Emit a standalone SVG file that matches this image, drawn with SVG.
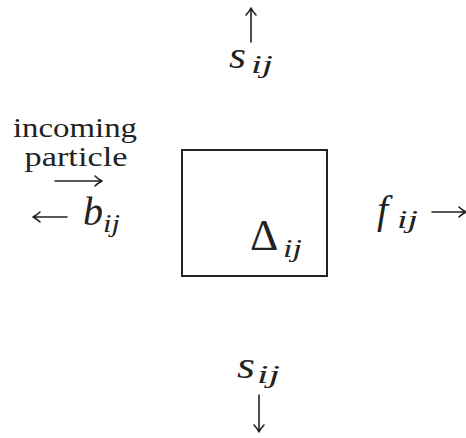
<svg xmlns="http://www.w3.org/2000/svg" width="466" height="438" viewBox="0 0 466 438">
<style>
.a{stroke:#222;stroke-width:1.6;fill:none;stroke-linecap:round;stroke-linejoin:round}
</style>
<rect width="466" height="438" fill="#fff"/>
<g id="cell">
<rect x="182" y="150" width="145" height="126" fill="none" stroke="#222" stroke-width="2"/>
<text x="250" y="250" font-family="'Liberation Serif', serif" fill="#222" font-size="44">Δ</text>
<text x="283" y="257" font-family="'Liberation Serif', serif" fill="#222" font-style="italic" font-size="26" textLength="19" lengthAdjust="spacingAndGlyphs">ij</text>
</g>
<g id="top-s">
<text x="229" y="68" font-family="'Liberation Serif', serif" fill="#222" font-style="italic" font-size="38" textLength="17" lengthAdjust="spacingAndGlyphs">s</text>
<text x="251" y="73" font-family="'Liberation Serif', serif" fill="#222" font-style="italic" font-size="26" textLength="22" lengthAdjust="spacingAndGlyphs">ij</text>
</g>
<g id="bottom-s">
<text x="237" y="378" font-family="'Liberation Serif', serif" fill="#222" font-style="italic" font-size="38" textLength="18" lengthAdjust="spacingAndGlyphs">s</text>
<text x="257" y="383" font-family="'Liberation Serif', serif" fill="#222" font-style="italic" font-size="26" textLength="23" lengthAdjust="spacingAndGlyphs">ij</text>
</g>
<g id="f">
<text x="377" y="223" font-family="'Liberation Serif', serif" fill="#222" font-style="italic" font-size="40">f</text>
<text x="397" y="228" font-family="'Liberation Serif', serif" fill="#222" font-style="italic" font-size="26" textLength="21" lengthAdjust="spacingAndGlyphs">ij</text>
</g>
<g id="b">
<text x="83" y="225" font-family="'Liberation Serif', serif" fill="#222" font-style="italic" font-size="40">b</text>
<text x="103" y="232" font-family="'Liberation Serif', serif" fill="#222" font-style="italic" font-size="26" textLength="17" lengthAdjust="spacingAndGlyphs">ij</text>
</g>
<g id="label">
<text x="75" y="137" font-family="'Liberation Serif', serif" fill="#222" font-size="28" text-anchor="middle" textLength="124" lengthAdjust="spacingAndGlyphs">incoming</text>
<text x="76" y="166" font-family="'Liberation Serif', serif" fill="#222" font-size="28" text-anchor="middle" textLength="103" lengthAdjust="spacingAndGlyphs">particle</text>
</g>
<g id="connectors">
<path class="a" d="M251 42V8M246 15Q249 12 251 8Q253 12 256 15"/>
<path class="a" d="M259 395V432M254 425Q257 428 259 432Q261 428 264 425"/>
<path class="a" d="M432 212H466M459 207Q462 210 466 212Q462 214 459 217"/>
<path class="a" d="M67 217H33M40 212Q37 215 33 217Q37 219 40 222"/>
<path class="a" d="M55 181H102M95 176Q98 179 102 181Q98 183 95 186"/>
</g>
</svg>
